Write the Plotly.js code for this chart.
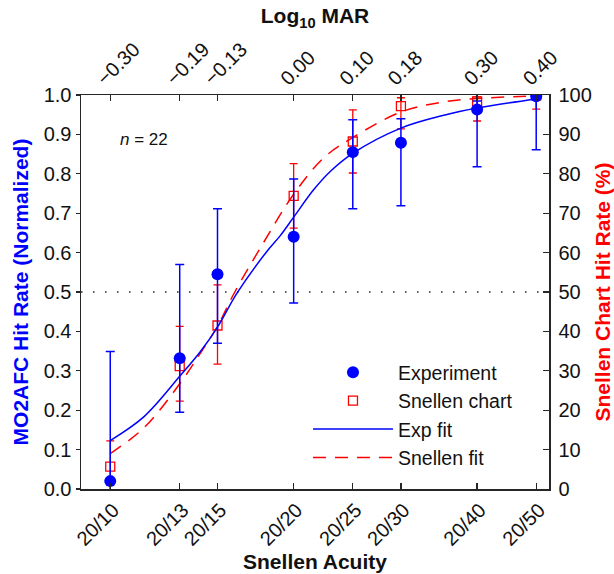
<!DOCTYPE html>
<html>
<head>
<meta charset="utf-8">
<script src="https://cdn.plot.ly/plotly-3.0.1.min.js"></script>
<style>html,body{margin:0;padding:0;background:#fff;}#chart{width:614px;height:574px;}</style>
</head>
<body>
<div id="chart"></div>
<script>
// Acuity levels (x = log10 MAR)
const acuityLabels = ["20/10", "20/13", "20/15", "20/20", "20/25", "20/30", "20/40", "20/50"];
const logMAR = [-0.301, -0.187, -0.125, 0.000, 0.097, 0.176, 0.301, 0.398];
const logMARLabels = ["\u22120.30", "\u22120.19", "\u22120.13", "0.00", "0.10", "0.18", "0.30", "0.40"];

// Experiment (MO2AFC hit rate, normalized)
const expValue = [0.020, 0.332, 0.545, 0.640, 0.855, 0.879, 0.963, 0.997];
const expUpper = [0.349, 0.570, 0.711, 0.787, 0.937, 0.940, 0.985, 1.133];
const expLower = [-0.309, 0.195, 0.370, 0.472, 0.711, 0.719, 0.818, 0.861];

// Snellen chart hit rate (%)
const snValue = [5.7, 31.2, 41.5, 74.4, 88.2, 97.2, 98.4, 99.9];
const snUpper = [12.2, 41.3, 51.8, 82.6, 96.2, 99.3, 99.5, 100.0];
const snLower = [-0.8, 22.3, 31.7, 66.2, 80.2, 91.4, 93.4, 96.4];

// Exp fit
const expFitX = [-0.301, -0.246, -0.187, -0.153, -0.125, -0.093, -0.044, -0.022, 0.000, 0.033, 0.060, 0.097, 0.176, 0.250, 0.301, 0.398];
const expFitY = [0.123, 0.183, 0.286, 0.349, 0.411, 0.497, 0.603, 0.643, 0.690, 0.760, 0.806, 0.852, 0.916, 0.950, 0.967, 0.990];

// Snellen fit (%)
const snFitX = [-0.301, -0.246, -0.187, -0.153, -0.125, -0.099, -0.050, 0.000, 0.049, 0.098, 0.178, 0.252, 0.301, 0.398];
const snFitY = [9.0, 15.5, 26.7, 34.5, 41.3, 49.3, 62.4, 74.8, 84.0, 89.3, 95.8, 98.4, 99.1, 99.8];

const BLUE = "#0000ff", RED = "#ff0000";
const FONT = "Liberation Sans, Arial, Helvetica, sans-serif";

const minus = (v, lo) => v.map((x, i) => x - lo[i]);
const plus = (v, hi) => hi.map((x, i) => x - v[i]);

const traces = [
  {
    name: "Snellen chart", x: logMAR, y: snValue, xaxis: "x", yaxis: "y",
    type: "scatter", mode: "markers", legendrank: 2,
    marker: {symbol: "square-open", size: 9, color: RED, line: {width: 1.3, color: RED}},
    error_y: {type: "data", symmetric: false, array: plus(snValue, snUpper), arrayminus: minus(snValue, snLower),
              color: RED, thickness: 1.3, width: 4}
  },
  {
    name: "Snellen fit", x: snFitX, y: snFitY, xaxis: "x", yaxis: "y",
    type: "scatter", mode: "lines", legendrank: 4,
    line: {color: RED, width: 1.5, dash: "13px,9px", shape: "spline", smoothing: 1}
  },
  {
    name: "Exp fit", x: expFitX, y: expFitY, xaxis: "x", yaxis: "y2",
    type: "scatter", mode: "lines", legendrank: 3,
    line: {color: BLUE, width: 1.5, shape: "spline", smoothing: 1}
  },
  {
    name: "Experiment", x: logMAR, y: expValue, xaxis: "x", yaxis: "y2",
    type: "scatter", mode: "markers", legendrank: 1,
    marker: {symbol: "circle", size: 12, color: BLUE},
    error_y: {type: "data", symmetric: false, array: plus(expValue, expUpper), arrayminus: minus(expValue, expLower),
              color: BLUE, thickness: 1.5, width: 4.5}
  },
  {
    x: logMAR, y: expValue, xaxis: "x2", yaxis: "y2", type: "scatter", mode: "markers",
    marker: {opacity: 0}, showlegend: false, hoverinfo: "skip"
  }
];

const xRange = [-0.349, 0.419];
const axisLine = {showline: true, linecolor: "#262626", linewidth: 1.5, zeroline: false, showgrid: false,
                  tickcolor: "#262626", tickwidth: 1.3};
const TICKFONT = {family: FONT, size: 20, color: "#111"};

const layout = {
  width: 614, height: 574,
  margin: {l: 81, r: 65, t: 95, b: 85, pad: 0},
  paper_bgcolor: "#fff", plot_bgcolor: "#fff",
  font: {family: FONT, size: 19, color: "#111"},
  showlegend: true,
  legend: {x: 0.485, xanchor: "left", y: 0.03, yanchor: "bottom", bgcolor: "rgba(0,0,0,0)",
           font: {family: FONT, size: 19.5, color: "#111"}, itemwidth: 80, traceorder: "normal"},
  xaxis: Object.assign({}, axisLine, {
    range: xRange, tickmode: "array", tickvals: logMAR, ticktext: acuityLabels,
    tickangle: -45, ticks: "inside", ticklen: 6, anchor: "y", ticklabelshift: 3,
    tickfont: TICKFONT,
    title: {text: "<b>Snellen Acuity</b>", font: {family: FONT, size: 21, color: "#111"}, standoff: 4}
  }),
  xaxis2: Object.assign({}, axisLine, {
    range: xRange, overlaying: "x", side: "top", anchor: "y", tickmode: "array", tickvals: logMAR, ticktext: logMARLabels,
    tickangle: -45, ticks: "inside", ticklen: 6, ticklabelshift: -12, ticklabelstandoff: -4,
    tickfont: TICKFONT,
    title: {text: "<b>Log<sub>10</sub> MAR</b>", font: {family: FONT, size: 21, color: "#111"}, standoff: 8}
  }),
  yaxis: Object.assign({}, axisLine, {
    range: [0, 100], side: "right", anchor: "x", tickmode: "linear", tick0: 0, dtick: 10,
    ticks: "inside", ticklen: 6, ticklabelstandoff: 4,
    tickfont: TICKFONT,
    title: {text: "<b>Snellen Chart Hit Rate (%)</b>", font: {family: FONT, size: 21, color: RED}, standoff: 6}
  }),
  yaxis2: Object.assign({}, axisLine, {
    range: [0, 1], side: "left", overlaying: "y", anchor: "x", tickmode: "linear", tick0: 0, dtick: 0.1,
    tickformat: ".1f", ticks: "outside", ticklen: 4,
    tickfont: TICKFONT,
    title: {text: "<b>MO2AFC Hit Rate (Normalized)</b>", font: {family: FONT, size: 21, color: BLUE}, standoff: 9}
  }),
  shapes: [{type: "line", xref: "paper", x0: 0, x1: 1, yref: "y2", y0: 0.5, y1: 0.5,
            line: {color: "#222", width: 1.6, dash: "1.5px,10.5px"}, layer: "below"}],
  annotations: [{xref: "paper", yref: "paper", x: 0.079, y: 0.886, xanchor: "left", yanchor: "middle",
                 text: "<i>n</i> = 22", showarrow: false, font: {family: FONT, size: 17, color: "#111"}}]
};

Plotly.newPlot("chart", traces, layout, {staticPlot: true, displayModeBar: false});
</script>
</body>
</html>
